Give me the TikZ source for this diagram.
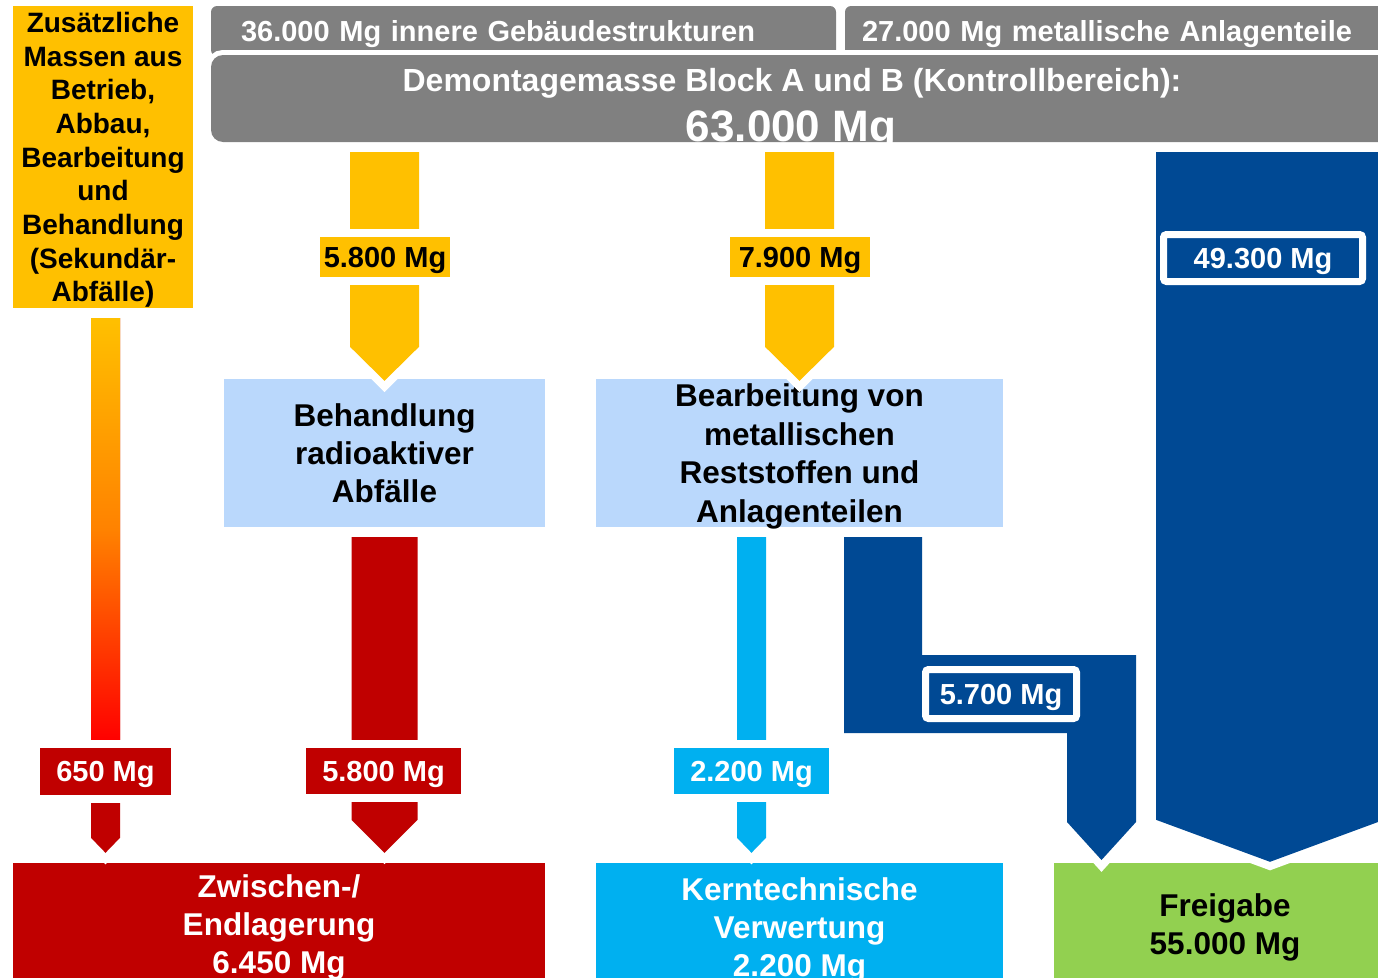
\documentclass[tikz,border=0pt]{standalone}
\usepackage{fontspec}
\setmainfont{Liberation Sans}
\usetikzlibrary{positioning,calc}
\definecolor{gelb}{RGB}{255,192,0}
\definecolor{grau}{RGB}{128,128,128}
\definecolor{hellblau}{RGB}{186,216,252}
\definecolor{rot}{RGB}{192,0,0}
\definecolor{tuerkis}{RGB}{0,176,240}
\definecolor{dunkelblau}{RGB}{0,73,148}
\definecolor{gruen}{RGB}{146,208,80}
\definecolor{orangerot}{RGB}{255,130,0}
\definecolor{hellrot}{RGB}{255,0,0}
\tikzset{
  kasten/.style={inner sep=0pt,align=center,text depth=0pt,font=\bfseries\fontsize{31.5}{38.4}\selectfont},
  balken/.style={inner ysep=0pt,fill=grau,text=white,rounded corners=6pt,align=left,text depth=0pt,font=\bfseries\fontsize{29}{34}\selectfont},
  weissrand/.style={preaction={draw=white,line width=#1}},
  weissrand/.default=16pt,
  menge/.style={inner sep=0pt,weissrand,text depth=0pt,font=\bfseries\fontsize{29}{34}\selectfont},
  mengeR/.style={inner sep=0pt,fill=dunkelblau,text=white,draw=white,line width=7pt,rounded corners=3pt,text depth=0pt,font=\bfseries\fontsize{29}{34}\selectfont},
  pfeil/.style n args={3}{weissrand,fill=#1,to path={let \p1=(\tikztostart),\p2=(\tikztotarget) in
      (\x1-#2pt,\y1-10pt) -- (\x1+#2pt,\y1-10pt) -- (\x1+#2pt,\y2+#3pt) -- (\x1,\y2) -- (\x1-#2pt,\y2+#3pt) -- cycle}},
}
\begin{document}
\begin{tikzpicture}[x=1pt,y=-1pt]
  \useasboundingbox (0,0) rectangle (1378,977);
  \clip (0,0) rectangle (1378,977);
  \node[kasten,fill=gelb,minimum width=180pt,minimum height=302pt,font=\bfseries\fontsize{28}{33.7}\selectfont] (zusatz) at (103,157)
    {Zusätzliche\\Massen aus\\Betrieb,\\Abbau,\\Bearbeitung\\und\\Behandlung\\(Sekundär-\\Abfälle)};
  \node[balken,minimum height=50pt,text width=565pt,inner xsep=30pt] (oben1) at (523.5,31) {36.000 Mg innere Gebäudestrukturen};
  \node[balken,minimum height=50pt,text width=511pt,inner xsep=17pt] (oben2) at (1117.5,31) {27.000 Mg metallische Anlagenteile};
  \node[fill=grau,rounded corners=12pt,weissrand=10pt,minimum width=1183pt,minimum height=87pt,inner sep=0pt] (demo) at (802.5,98.5) {};
  \begin{scope}
    \clip (211,55) rectangle (1378,142);
    \node[text=white,text depth=0pt,font=\bfseries\fontsize{32}{38}\selectfont] (demotitel) at (792,80) {Demontagemasse Block A und B (Kontrollbereich):};
    \node[text=white,font=\bfseries\fontsize{44}{50}\selectfont,anchor=base] (demomasse) at (791,141) {63.000 Mg};
  \end{scope}
  \node[kasten,fill=hellblau,minimum width=321pt,minimum height=148pt] (behand) at (384.5,453) {Behandlung\\radioaktiver\\Abfälle};
  \node[kasten,fill=hellblau,minimum width=407pt,minimum height=148pt] (bearb) at (799.5,453) {Bearbeitung von\\metallischen\\Reststoffen und\\Anlagenteilen};
  \node[kasten,fill=rot,text=white,minimum width=532pt,minimum height=122pt] (zwischen) at (279,924) {Zwischen-/\\Endlagerung\\6.450 Mg};
  \node[kasten,fill=tuerkis,text=white,minimum width=407pt,minimum height=128pt] (kern) at (799.5,927) {Kerntechnische\\Verwertung\\2.200 Mg};
  \node[kasten,fill=gruen,minimum width=342pt,minimum height=122pt] (frei) at (1225,924) {Freigabe\\55.000 Mg};

  \coordinate (tuerkisachse) at (751.5,0);
  \coordinate (blauachse) at (1270,0);
  \path[pfeil={gelb}{34.5}{34}] (demo.south -| behand) to ([yshift=-2pt]behand.north);
  \path[pfeil={gelb}{34.5}{34}] (demo.south -| bearb) to ([yshift=-2pt]bearb.north);
  \path[pfeil={rot}{14.5}{15}] ([xshift=2.5pt]zusatz.south) to ([yshift=10pt]zwischen.north);
  \shade[top color=gelb,bottom color=hellrot,middle color=orangerot] (91,318) rectangle (120,741);
  \path[pfeil={rot}{33}{33}] (behand.south) to ([yshift=10pt]zwischen.north);
  \path[pfeil={tuerkis}{14.5}{15}] (bearb.south -| tuerkisachse) to ([yshift=10pt]kern.north);
  \path[weissrand,fill=dunkelblau] (844,537) -- (922,537) -- (922,655) -- (1136,655) -- (1136,822)
    -- (1101.5,860) -- (1067,822) -- (1067,733) -- (844,733) -- cycle;
  \path[pfeil={dunkelblau}{114}{42}] (demo.south -| blauachse) to ([yshift=1pt]frei.north);

  \node[menge,fill=gelb,minimum width=130pt,minimum height=40pt] (l58g) at (385,257) {5.800 Mg};
  \node[menge,fill=gelb,minimum width=140pt,minimum height=40pt] (l79g) at (800,257) {7.900 Mg};
  \node[menge,fill=rot,text=white,minimum width=131pt,minimum height=47pt] (l650) at (105.5,771.5) {650 Mg};
  \node[menge,fill=rot,text=white,minimum width=155pt,minimum height=46pt] (l58r) at (383.5,771) {5.800 Mg};
  \node[menge,fill=tuerkis,text=white,minimum width=155pt,minimum height=46pt] (l22) at (751.5,771) {2.200 Mg};
  \node[mengeR,minimum width=151pt,minimum height=49pt] (l57) at (1001,694) {5.700 Mg};
  \node[mengeR,minimum width=199pt,minimum height=47pt] (l493) at (1263,258) {49.300 Mg};
\end{tikzpicture}
\end{document}
